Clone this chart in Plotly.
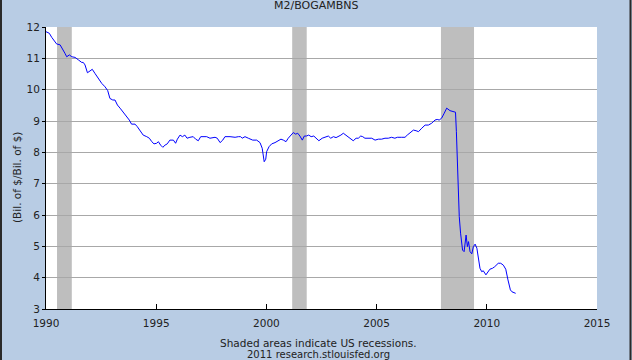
import plotly.graph_objects as go

# Decimal-year positions and M2 / monetary base ratio values
years = [1990.0, 1990.15, 1990.26, 1990.36, 1990.48, 1990.64, 1990.74, 1990.86, 1990.94, 1991.06,
         1991.17, 1991.32, 1991.47, 1991.62, 1991.69, 1991.77, 1991.88, 1992.0, 1992.1, 1992.22,
         1992.37, 1992.53, 1992.68, 1992.8, 1992.9, 1993.03, 1993.13, 1993.24, 1993.36, 1993.48,
         1993.63, 1993.78, 1993.88, 1994.04, 1994.14, 1994.26, 1994.41, 1994.57, 1994.69, 1994.8,
         1994.9, 1995.02, 1995.1, 1995.2, 1995.3, 1995.4, 1995.5, 1995.62, 1995.78, 1995.88,
         1995.96, 1996.08, 1996.19, 1996.3, 1996.4, 1996.53, 1996.68, 1996.79, 1996.91, 1997.02,
         1997.14, 1997.29, 1997.44, 1997.67, 1997.77, 1997.9, 1998.02, 1998.12, 1998.35, 1998.58,
         1998.73, 1998.83, 1998.9, 1999.03, 1999.18, 1999.38, 1999.56, 1999.71, 1999.81, 1999.86,
         1999.9, 1999.97, 2000.01, 2000.12, 2000.24, 2000.39, 2000.54, 2000.66, 2000.77, 2000.89,
         2000.99, 2001.1, 2001.22, 2001.33, 2001.42, 2001.52, 2001.63, 2001.72, 2001.81, 2001.92,
         2002.03, 2002.15, 2002.26, 2002.38, 2002.53, 2002.68, 2002.81, 2002.92, 2003.04, 2003.16,
         2003.26, 2003.38, 2003.49, 2003.61, 2003.72, 2003.84, 2003.94, 2004.07, 2004.17, 2004.28,
         2004.37, 2004.47, 2004.62, 2004.78, 2004.93, 2005.08, 2005.23, 2005.38, 2005.53, 2005.68,
         2005.83, 2005.94, 2006.14, 2006.29, 2006.39, 2006.52, 2006.67, 2006.79, 2006.9, 2007.05,
         2007.2, 2007.35, 2007.5, 2007.65, 2007.75, 2007.84, 2007.95, 2008.07, 2008.18, 2008.33,
         2008.48, 2008.58, 2008.62, 2008.66, 2008.71, 2008.75, 2008.81, 2008.86, 2008.9, 2008.97,
         2009.01, 2009.06, 2009.12, 2009.17, 2009.24, 2009.32, 2009.39, 2009.47, 2009.55, 2009.62,
         2009.69, 2009.77, 2009.84, 2009.96, 2010.07, 2010.14, 2010.26, 2010.36, 2010.52, 2010.63,
         2010.75, 2010.86, 2010.96, 2011.02, 2011.07, 2011.14, 2011.25, 2011.31]
ratio = [11.85, 11.80, 11.67, 11.59, 11.46, 11.43, 11.32, 11.16, 11.05, 11.11,
         11.05, 11.03, 10.95, 10.87, 10.87, 10.79, 10.54, 10.61, 10.65, 10.52,
         10.36, 10.20, 10.09, 9.97, 9.72, 9.67, 9.67, 9.51, 9.41, 9.30,
         9.17, 9.03, 8.90, 8.90, 8.82, 8.68, 8.55, 8.50, 8.45, 8.34,
         8.27, 8.29, 8.34, 8.23, 8.16, 8.23, 8.27, 8.39, 8.39, 8.29,
         8.42, 8.55, 8.50, 8.55, 8.45, 8.48, 8.50, 8.42, 8.37, 8.50,
         8.50, 8.50, 8.45, 8.48, 8.45, 8.31, 8.39, 8.50, 8.50, 8.48,
         8.50, 8.50, 8.45, 8.50, 8.45, 8.39, 8.39, 8.31, 8.13, 7.86,
         7.70, 7.78, 8.02, 8.18, 8.27, 8.31, 8.37, 8.42, 8.39, 8.34,
         8.45, 8.55, 8.63, 8.58, 8.61, 8.52, 8.39, 8.52, 8.52, 8.55,
         8.50, 8.52, 8.45, 8.37, 8.45, 8.50, 8.52, 8.45, 8.50, 8.47,
         8.50, 8.55, 8.61, 8.55, 8.50, 8.42, 8.37, 8.45, 8.45, 8.52,
         8.50, 8.45, 8.45, 8.45, 8.39, 8.42, 8.42, 8.45, 8.45, 8.48,
         8.45, 8.48, 8.48, 8.48, 8.55, 8.63, 8.71, 8.69, 8.66, 8.77,
         8.87, 8.87, 8.93, 9.03, 9.05, 9.03, 9.09, 9.25, 9.41, 9.33,
         9.30, 9.28, 8.66, 7.54, 6.69, 5.95, 5.42, 5.04, 4.88, 4.83,
         5.15, 5.36, 4.99, 5.15, 4.83, 4.76, 4.99, 5.07, 4.94, 4.56,
         4.30, 4.19, 4.22, 4.09, 4.19, 4.27, 4.30, 4.35, 4.46, 4.46,
         4.40, 4.27, 3.93, 3.71, 3.61, 3.55, 3.52, 3.50]
n = min(len(years), len(ratio))
years, ratio = years[:n], ratio[:n]

rec_start = [1990.5, 2001.17, 2007.92]
rec_end = [1991.17, 2001.83, 2009.42]

x_ticks = [1990, 1995, 2000, 2005, 2010, 2015]
y_ticks = [3, 4, 5, 6, 7, 8, 9, 10, 11, 12]

FONT = "DejaVu Sans"
BG = "#B8CCE4"

fig = go.Figure()
fig.add_trace(go.Scatter(x=years, y=ratio, mode="lines",
                         line=dict(color="#0000FF", width=1), hoverinfo="skip"))

shapes = []
for s, e in zip(rec_start, rec_end):
    shapes.append(dict(type="rect", xref="x", yref="paper", x0=s, x1=e, y0=0, y1=1,
                       fillcolor="#BEBEBE", line=dict(width=0), layer="below"))

L, R, T, B = 46, 35, 27, 51
W, H = 632, 360
pw, ph = W - L - R, H - T - B
for px in (1, W - 1.5):
    xp = (px - L) / pw
    shapes.append(dict(type="line", xref="paper", yref="paper", x0=xp, x1=xp,
                       y0=(H - T + 5) / ph, y1=-(B + 5) / ph,
                       line=dict(color="#2a2a2a", width=2)))

def ypaper(py):
    return (H - B - py) / ph

def xpaper(px):
    return (px - L) / pw

annotations = [
    dict(text="M2/BOGAMBNS", xref="paper", yref="paper", x=xpaper(316), y=ypaper(6),
         xanchor="center", yanchor="middle", showarrow=False,
         font=dict(family=FONT, size=11, color="#222")),
    dict(text="(Bil. of $/Bil. of $)", xref="paper", yref="paper", x=xpaper(17), y=ypaper(178),
         xanchor="center", yanchor="middle", showarrow=False, textangle=-90,
         font=dict(family=FONT, size=10.5, color="#222")),
    dict(text="Shaded areas indicate US recessions.", xref="paper", yref="paper",
         x=xpaper(318), y=ypaper(342.5), xanchor="center", yanchor="middle", showarrow=False,
         font=dict(family=FONT, size=10.5, color="#222")),
    dict(text="2011 research.stlouisfed.org", xref="paper", yref="paper",
         x=xpaper(318), y=ypaper(354.5), xanchor="center", yanchor="middle", showarrow=False,
         font=dict(family=FONT, size=10, color="#222")),
]

fig.update_layout(
    width=W, height=H,
    margin=dict(l=L, r=R, t=T, b=B),
    paper_bgcolor=BG, plot_bgcolor="white",
    showlegend=False,
    shapes=shapes, annotations=annotations,
    font=dict(family=FONT, size=10, color="#222"),
    xaxis=dict(range=[1990, 2015], tickvals=x_ticks, ticktext=[str(v) for v in x_ticks],
               showgrid=False, zeroline=False, showline=True, linecolor="black", linewidth=1,
               ticks="inside", ticklen=5, tickcolor="black", tickfont=dict(size=10.5),
               ticklabelstandoff=4),
    yaxis=dict(range=[3, 12], tickvals=y_ticks, showgrid=True, gridcolor="#A8A8A8", gridwidth=1,
               zeroline=False, showline=True, linecolor="black", linewidth=1,
               ticks="outside", ticklen=3, tickcolor="black", tickfont=dict(size=10.5)),
)

fig.write_html("out.html", config={"displayModeBar": False},
               post_script="document.body.style.margin='0';document.body.style.overflow='hidden';")
